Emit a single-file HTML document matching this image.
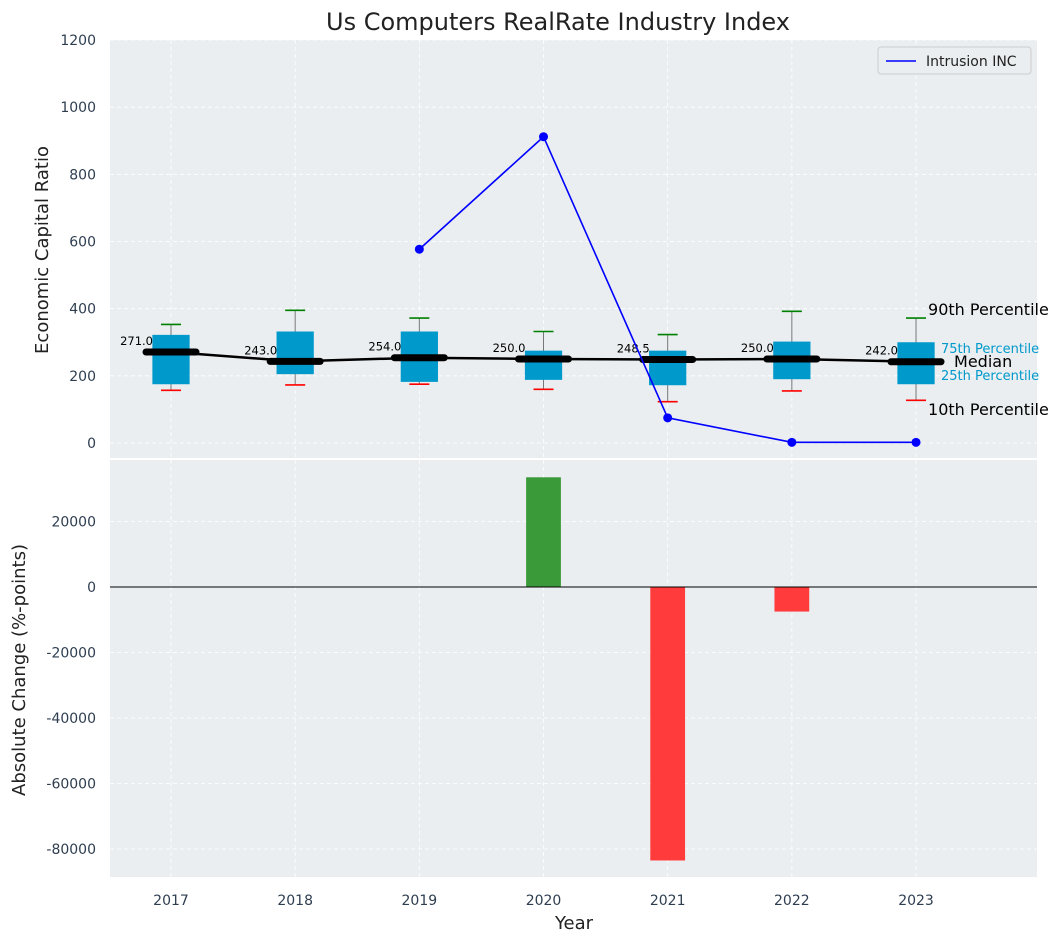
<!DOCTYPE html>
<html><head><meta charset="utf-8"><style>
body{margin:0;background:#fff;font-family:"Liberation Sans","DejaVu Sans",sans-serif}
svg text{font-family:"DejaVu Sans","Liberation Sans",sans-serif}
</style></head><body>
<svg id="c" width="1063" height="942" xmlns="http://www.w3.org/2000/svg"></svg>
<script>
const years=[2017,2018,2019,2020,2021,2022,2023];
const p10=[157,173,175,160,123,155,127];
const q1=[175,205,182,188,172,190,175];
const med=[271,243,254,250,248.5,250,242];
const q3=[322,332,332,275,275,302,300];
const p90=[353,395,372,332,323,392,372];
const lineYears=[2019,2020,2021,2022,2023];
const lineVals=[577,912,75,2,2];
const barYears=[2020,2021,2022];
const barVals=[33500,-83500,-7500];
const topTicks=[0,200,400,600,800,1000,1200];
const botTicks=[-80000,-60000,-40000,-20000,0,20000];

const S=document.getElementById('c');const NS='http://www.w3.org/2000/svg';
function el(t,a,txt,p){const e=document.createElementNS(NS,t);for(const k in a)e.setAttribute(k,a[k]);if(txt!=null)e.textContent=txt;(p||S).appendChild(e);return e;}
const X=v=>171+(v-2017)*124.17;
const Y1=v=>443-v*(403/1200);
const Y2=v=>587-v*(65.5/20000);
const L=110,R=1037;
let e;
e=el('rect',{x:L,y:40,width:R-L,height:418,fill:'#eaeef0'});

e=el('rect',{x:L,y:460,width:R-L,height:417,fill:'#eaeef0'});

years.forEach(y=>{el('line',{x1:X(y),x2:X(y),y1:40,y2:458,stroke:'#fff','stroke-dasharray':'4,3','stroke-width':0.8});
el('line',{x1:X(y),x2:X(y),y1:460,y2:877,stroke:'#fff','stroke-dasharray':'4,3','stroke-width':0.8});
e=el('text',{x:X(y),y:905,'text-anchor':'middle','font-size':14,fill:'#2e3e50'},y);
});
topTicks.forEach(t=>{el('line',{x1:L,x2:R,y1:Y1(t),y2:Y1(t),stroke:'#fff','stroke-dasharray':'4,3','stroke-width':0.8});
e=el('text',{x:96,y:Y1(t)+5,'text-anchor':'end','font-size':14,fill:'#2e3e50'},t);
});
botTicks.forEach(t=>{el('line',{x1:L,x2:R,y1:Y2(t),y2:Y2(t),stroke:'#fff','stroke-dasharray':'4,3','stroke-width':0.8});
e=el('text',{x:96,y:Y2(t)+5,'text-anchor':'end','font-size':14,fill:'#2e3e50'},t);
});
e=el('text',{x:558,y:30,'text-anchor':'middle','font-size':24,fill:'#222'},'Us Computers RealRate Industry Index');

e=el('text',{x:48,y:250,'text-anchor':'middle','font-size':18,fill:'#222',transform:'rotate(-90 48 250)'},'Economic Capital Ratio');

e=el('text',{x:25,y:670,'text-anchor':'middle','font-size':18,fill:'#222',transform:'rotate(-90 25 670)'},'Absolute Change (%-points)');

e=el('text',{x:574,y:929,'text-anchor':'middle','font-size':18,fill:'#222'},'Year');

const bw=0.3*124.17;
years.forEach((y,i)=>{const x=X(y);
el('line',{x1:x,x2:x,y1:Y1(p10[i]),y2:Y1(p90[i]),stroke:'#777','stroke-width':1});
e=el('rect',{x:x-bw/2,y:Y1(q3[i]),width:bw,height:Y1(q1[i])-Y1(q3[i]),fill:'#0099cc'});

el('line',{x1:x-10,x2:x+10,y1:Y1(p90[i]),y2:Y1(p90[i]),stroke:'green','stroke-width':1.6});
el('line',{x1:x-10,x2:x+10,y1:Y1(p10[i]),y2:Y1(p10[i]),stroke:'red','stroke-width':1.6});
el('line',{x1:x-25,x2:x+25,y1:Y1(med[i]),y2:Y1(med[i]),stroke:'#000','stroke-width':7,'stroke-linecap':'round'});
e=el('text',{x:x-18,y:Y1(med[i])-7,'text-anchor':'end','font-size':11.5,fill:'#000'},med[i].toFixed(1));
});
e=el('polyline',{points:years.map((y,i)=>X(y)+','+Y1(med[i])).join(' '),fill:'none',stroke:'#000','stroke-width':2.5});

e=el('polyline',{points:lineYears.map((y,i)=>X(y)+','+Y1(lineVals[i])).join(' '),fill:'none',stroke:'blue','stroke-width':1.6});

lineYears.forEach((y,i)=>{e=el('circle',{cx:X(y),cy:Y1(lineVals[i]),r:4.5,fill:'blue'});
});
const lx=X(2023);
[['90th Percentile',315,16,'#000',12],['75th Percentile',353,13,'#0099cc',25],['Median',367,16,'#000',38],['25th Percentile',380,13,'#0099cc',25],['10th Percentile',415,16,'#000',12]].forEach(a=>{
e=el('text',{x:lx+a[4],y:a[1],'font-size':a[2],fill:a[3]},a[0]);
});
barYears.forEach((y,i)=>{const v=barVals[i];const w=0.28*124.17;
e=el('rect',{x:X(y)-w/2,y:Math.min(Y2(v),Y2(0)),width:w,height:Math.abs(Y2(v)-Y2(0)),fill:v>=0?'#3a9a3a':'#ff3b3b'});
});
el('line',{x1:L,x2:R,y1:Y2(0),y2:Y2(0),stroke:'#000','stroke-width':1});
const g=el('g',{});
el('rect',{x:878,y:47,width:153,height:27,rx:3,fill:'#eaeef0',stroke:'#ccc'},null,g);
el('line',{x1:886,x2:916,y1:61,y2:61,stroke:'blue','stroke-width':1.6},null,g);
el('text',{x:926,y:66,'font-size':14,fill:'#222'},'Intrusion INC',g);
</script>
</body></html>
